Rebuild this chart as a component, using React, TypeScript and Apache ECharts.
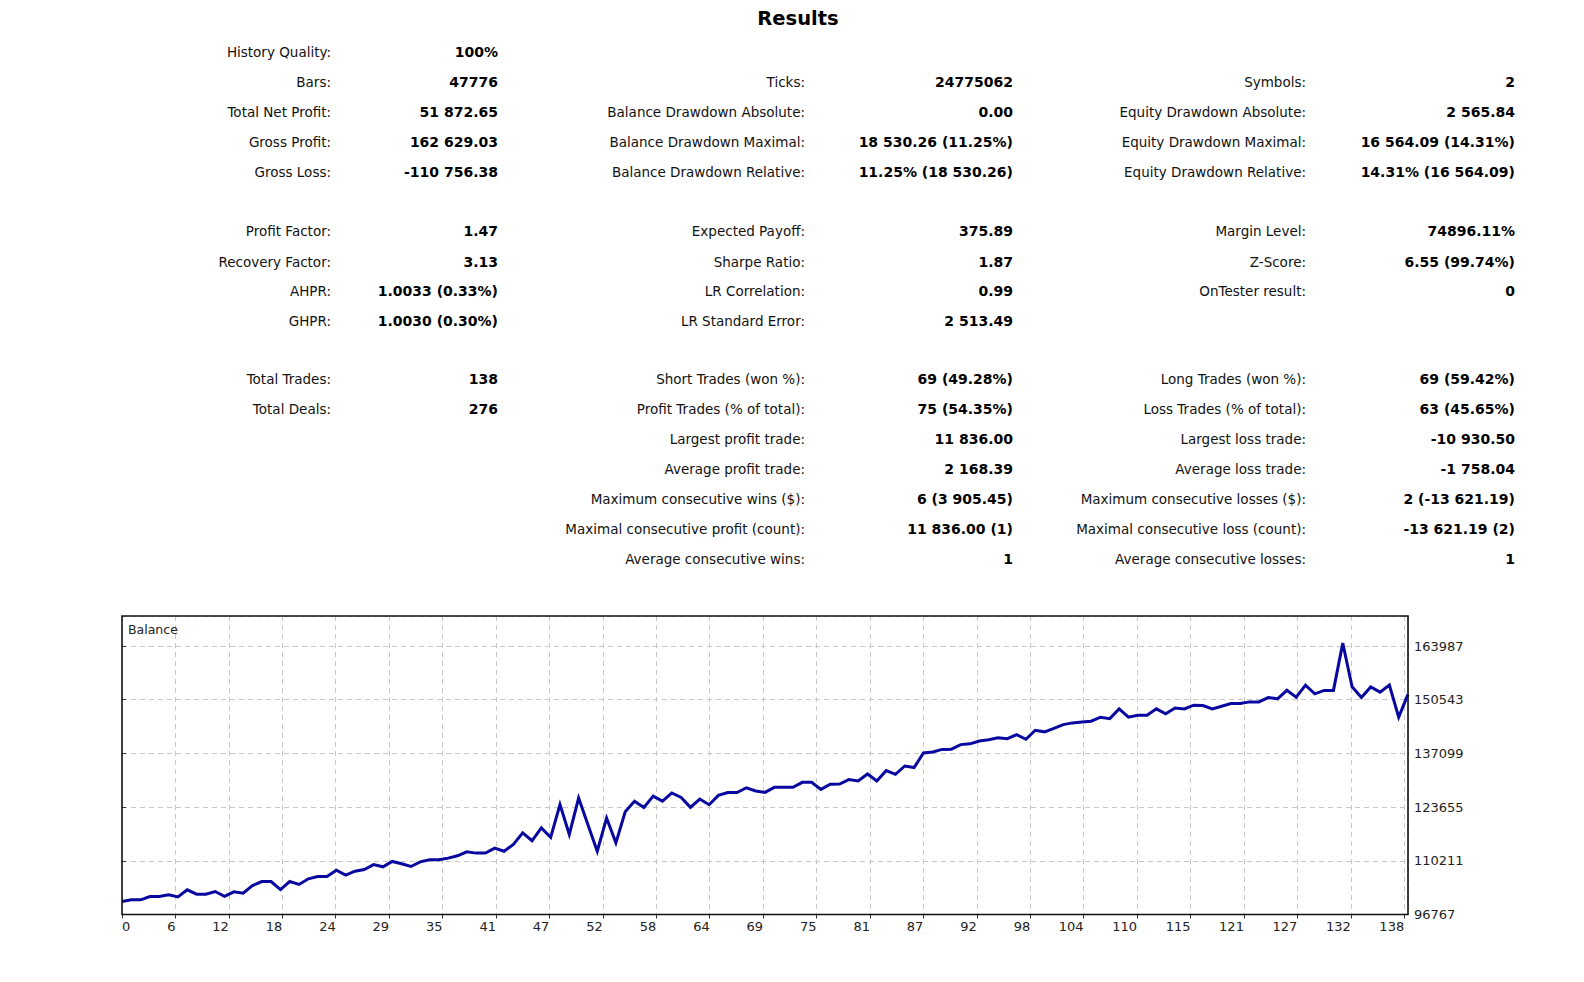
import React, { useEffect, useRef } from "react";
import * as echarts from "echarts";

// Balance after each closed trade (trade 0 = initial deposit)
const balance: number[] = [
  100000, 100430, 100430, 101265, 101265, 101684, 101182, 102938, 101851, 101851,
  102520, 101300, 102436, 102102, 104000, 105028, 105028, 103000, 105028, 104300,
  105700, 106282, 106282, 107870, 106650, 107600, 108037, 109250, 108706, 110044,
  109459, 108790, 109960, 110462, 110462, 110880, 111465, 112468, 112134, 112134,
  113388, 112600, 114300, 117200, 115227, 118450, 116063, 124300, 116800, 125930,
  119250, 112600, 120912, 114700, 122500, 125150, 123587, 126400, 125150, 127200,
  126095, 123587, 125677, 124256, 126600, 127300, 127300, 128500, 127700, 127349,
  128603, 128603, 128603, 129857, 129857, 128100, 129400, 129440, 130550, 130200,
  131948, 130200, 132783, 131850, 133950, 133550, 137200, 137450, 138100, 138150,
  139300, 139500, 140200, 140500, 141000, 140800, 141800, 140650, 142900, 142500,
  143350, 144300, 144738, 144950, 145156, 146159, 145800, 148249, 146159, 146650,
  146650, 148249, 147000, 148450, 148249, 149170, 149085, 148249, 148900, 149600,
  149600, 150000, 150000, 151090, 150757, 152900, 151175, 154200, 152012, 152877,
  152877, 164713, 153783, 151092, 153750, 152430, 154200, 146183, 151873,
];

const xTickLabels: string[] = [
  "0", "6", "12", "18", "24", "29", "35", "41", "47", "52", "58", "64", "69",
  "75", "81", "87", "92", "98", "104", "110", "115", "121", "127", "132", "138",
];
const yTickLabels: string[] = ["96767", "110211", "123655", "137099", "150543", "163987"];

const yMin = 96767;
const yStep = 13444;
const yMax = 171500;
const xMax = 138;
const xStep = 5.733;

const title = "Results";

const col1: [string, string][] = [
  ["History Quality:", "100%"],
  ["Bars:", "47776"],
  ["Total Net Profit:", "51 872.65"],
  ["Gross Profit:", "162 629.03"],
  ["Gross Loss:", "-110 756.38"],
  ["Profit Factor:", "1.47"],
  ["Recovery Factor:", "3.13"],
  ["AHPR:", "1.0033 (0.33%)"],
  ["GHPR:", "1.0030 (0.30%)"],
  ["Total Trades:", "138"],
  ["Total Deals:", "276"],
];
const col1Rows = [0, 1, 2, 3, 4, 5, 6, 7, 8, 9, 10];

const col2: [string, string][] = [
  ["Ticks:", "24775062"],
  ["Balance Drawdown Absolute:", "0.00"],
  ["Balance Drawdown Maximal:", "18 530.26 (11.25%)"],
  ["Balance Drawdown Relative:", "11.25% (18 530.26)"],
  ["Expected Payoff:", "375.89"],
  ["Sharpe Ratio:", "1.87"],
  ["LR Correlation:", "0.99"],
  ["LR Standard Error:", "2 513.49"],
  ["Short Trades (won %):", "69 (49.28%)"],
  ["Profit Trades (% of total):", "75 (54.35%)"],
  ["Largest profit trade:", "11 836.00"],
  ["Average profit trade:", "2 168.39"],
  ["Maximum consecutive wins ($):", "6 (3 905.45)"],
  ["Maximal consecutive profit (count):", "11 836.00 (1)"],
  ["Average consecutive wins:", "1"],
];
const col2Rows = [1, 2, 3, 4, 5, 6, 7, 8, 9, 10, 11, 12, 13, 14, 15];

const col3: [string, string][] = [
  ["Symbols:", "2"],
  ["Equity Drawdown Absolute:", "2 565.84"],
  ["Equity Drawdown Maximal:", "16 564.09 (14.31%)"],
  ["Equity Drawdown Relative:", "14.31% (16 564.09)"],
  ["Margin Level:", "74896.11%"],
  ["Z-Score:", "6.55 (99.74%)"],
  ["OnTester result:", "0"],
  ["Long Trades (won %):", "69 (59.42%)"],
  ["Loss Trades (% of total):", "63 (45.65%)"],
  ["Largest loss trade:", "-10 930.50"],
  ["Average loss trade:", "-1 758.04"],
  ["Maximum consecutive losses ($):", "2 (-13 621.19)"],
  ["Maximal consecutive loss (count):", "-13 621.19 (2)"],
  ["Average consecutive losses:", "1"],
];
const col3Rows = [1, 2, 3, 4, 5, 6, 7, 9, 10, 11, 12, 13, 14, 15];

const rowY = [51.5, 81.8, 112.1, 142.4, 171.7, 231.3, 261.6, 290.9, 321.2, 378.8, 409.1, 439.4, 468.7, 499.0, 529.3, 558.6];

const FONT = "'DejaVu Sans', Verdana, sans-serif";

const GRID = { left: 122, top: 616, width: 1286, height: 298.5 };

export default function App() {
  const ref = useRef<HTMLDivElement>(null);
  useEffect(() => {
    if (!ref.current) return;
    const chart = echarts.init(ref.current, undefined, { renderer: "svg" });

    const texts: any[] = [];
    const addCol = (data: [string, string][], rows: number[], labelRight: number, valueRight: number) => {
      data.forEach((d, i) => {
        const y = rowY[rows[i]];
        texts.push({
          type: "text",
          x: labelRight,
          y,
          style: { text: d[0], align: "right", verticalAlign: "middle", fontFamily: FONT, fontSize: 13.5, fill: "#111" },
        });
        texts.push({
          type: "text",
          x: valueRight,
          y,
          style: { text: d[1], align: "right", verticalAlign: "middle", fontFamily: FONT, fontSize: 14, fontWeight: "bold", fill: "#000" },
        });
      });
    };
    addCol(col1, col1Rows, 331, 498);
    addCol(col2, col2Rows, 805, 1013);
    addCol(col3, col3Rows, 1306, 1515);

    texts.push({
      type: "text",
      x: 798,
      y: 18,
      style: { text: title, align: "center", verticalAlign: "middle", fontFamily: FONT, fontSize: 19.5, fontWeight: "bold", fill: "#000" },
    });
    texts.push({
      type: "text",
      x: 128,
      y: 629,
      z: 10,
      style: { text: "Balance", align: "left", verticalAlign: "middle", fontFamily: FONT, fontSize: 12.5, fill: "#222" },
    });
    // plot frame drawn over the dashed split lines
    texts.push({
      type: "rect",
      z: 100,
      silent: true,
      shape: { x: GRID.left, y: GRID.top, width: GRID.width, height: GRID.height },
      style: { fill: "none", stroke: "#111", lineWidth: 1.6 },
    });

    chart.setOption({
      animation: false,
      backgroundColor: "#fff",
      grid: {
        left: GRID.left,
        top: GRID.top,
        width: GRID.width,
        height: GRID.height,
        show: false,
      },
      xAxis: {
        type: "value",
        min: 0,
        max: xMax,
        interval: xStep,
        axisLine: { show: false },
        axisTick: { show: true, length: 4, lineStyle: { color: "#333" } },
        splitLine: { show: true, lineStyle: { color: "#c8c8c8", type: [5, 4], width: 1 } },
        axisLabel: {
          color: "#222",
          fontFamily: FONT,
          fontSize: 13,
          margin: 5,
          align: "right",
          alignMinLabel: "left",
          showMaxLabel: false,
          formatter: (v: number) => xTickLabels[Math.round(v / xStep)] ?? "",
        },
      },
      yAxis: {
        type: "value",
        position: "right",
        min: yMin,
        max: yMax,
        interval: yStep,
        axisLine: { show: false },
        axisTick: { show: true, length: 4, lineStyle: { color: "#333" } },
        splitLine: { show: true, lineStyle: { color: "#c8c8c8", type: [5, 4], width: 1 } },
        axisLabel: {
          color: "#222",
          fontFamily: FONT,
          fontSize: 13,
          margin: 6,
          showMaxLabel: false,
          formatter: (v: number) => yTickLabels[Math.round((v - yMin) / yStep)] ?? "",
        },
      },
      series: [
        {
          type: "line",
          name: "Balance",
          data: balance.map((v, i) => [i, v]),
          symbol: "none",
          clip: true,
          lineStyle: { color: "#0808a0", width: 3, join: "miter" },
        },
      ],
      graphic: texts,
    });
    return () => chart.dispose();
  }, []);
  return <div ref={ref} style={{ position: "fixed", left: 0, top: 0, width: 1584, height: 982 }} />;
}
